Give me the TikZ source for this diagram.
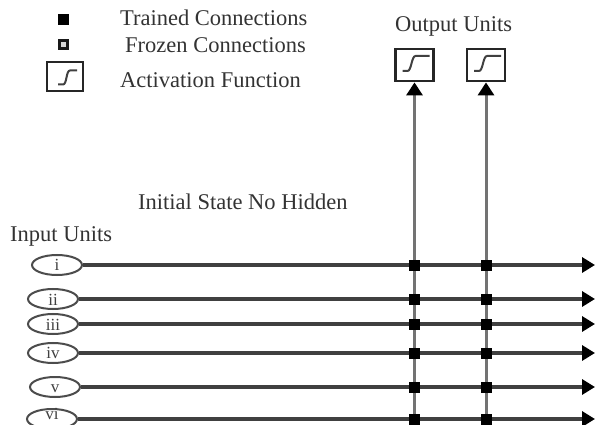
\documentclass[tikz,border=0pt]{standalone}
\usepackage{fontspec}
\setmainfont{Liberation Serif}
\usetikzlibrary{arrows.meta,shapes.geometric}
\begin{document}
\begin{tikzpicture}[x=1pt,y=-1pt,
  lbl/.style={font=\fontsize{22.5}{26}\selectfont, text=black!80, inner sep=0pt},
  inunit/.style={ellipse, draw=black!70, line width=2pt, minimum width=50pt, minimum height=20pt, inner sep=0pt},
  inlbl/.style={font=\fontsize{17}{18}\selectfont, text=black!75, inner sep=0pt},
  actbox/.style={draw=black!85, line width=2.8pt, minimum width=38pt, minimum height=32pt, inner sep=0pt},
  hline/.style={draw=black!75, line width=3.6pt, -{Triangle[length=13pt,width=15pt,color=black]}},
  vline/.style={draw=black!55, line width=3pt, -{Triangle[length=13pt,width=16pt,color=black]}},
  trained/.style={fill=black, minimum size=11pt, inner sep=0pt},
  frozen/.style={draw=black!90, fill=black!15, line width=3pt, minimum size=8pt, inner sep=0pt},
  sig/.style={draw=black!75, line width=2pt}
]
\useasboundingbox (0,0) rectangle (595,425);

% legend
\node[trained] (lgT) at (63,20) {};
\node[frozen] (lgF) at (63,45) {};
\node[actbox, minimum width=36pt, minimum height=29pt] (lgA) at (65,76.5) {};
\draw[sig] ([shift={(6pt,-8pt)}]lgA.center) ++(-13,0) -- ++(5,0) .. controls ++(4,0) and ++(-4,0) .. ++(7,-14) -- ++(7,0);
\node[lbl, anchor=base west] (tT) at (120,26) {Trained Connections};
\node[lbl, anchor=base west] (tF) at (125,53) {Frozen Connections};
\node[lbl, anchor=base west] (tA) at (120,88) {Activation Function};

% output units
\node[lbl, anchor=base west] (tOut) at (395,32) {Output Units};
\node[actbox] (out1) at (414.5,65) {};
\node[actbox] (out2) at (486,65) {};
\foreach \o in {out1,out2}{
  \draw[sig] (\o.center) ++(-12,6) -- ++(5,0) .. controls ++(4,0) and ++(-4,0) .. ++(8,-15) -- ++(14,0);
}

% titles
\node[lbl, anchor=base west] (tInit) at (138,210) {Initial State No Hidden};
\node[lbl, anchor=base west] (tIn) at (10,241) {Input Units};

% input units
\node[inunit] (in1) at (57,265) {};
\node[inunit] (in2) at (53,299) {};
\node[inunit] (in3) at (53,324) {};
\node[inunit] (in4) at (53,353) {};
\node[inunit] (in5) at (55,387) {};
\node[inunit] (in6) at (52,419) {};
\node[inlbl] (l1) at (57,265) {i};
\node[inlbl] (l2) at (53,300) {ii};
\node[inlbl] (l3) at (53,325) {iii};
\node[inlbl] (l4) at (53,353) {iv};
\node[inlbl] (l5) at (55,389) {v};
\node[inlbl] (l6) at (52,414) {vi};

% line ends
\coordinate (e1) at (595,265);
\coordinate (e2) at (595,299);
\coordinate (e3) at (595,324);
\coordinate (e4) at (595,353);
\coordinate (e5) at (595,387);
\coordinate (e6) at (595,419);
\coordinate (b1) at (414.5,425);
\coordinate (b2) at (486,425);

% vertical lines
\draw[vline] (b1) -- (out1.south);
\draw[vline] (b2) -- (out2.south);

% horizontal lines
\foreach \i in {1,...,6}{
  \draw[hline] (in\i.east) -- (e\i);
}

% junctions
\foreach \y [count=\k] in {265,299,324,353,387,419}{
  \node[trained] (ja\k) at (414.5,\y) {};
  \node[trained] (jb\k) at (486,\y) {};
}
\end{tikzpicture}
\end{document}
